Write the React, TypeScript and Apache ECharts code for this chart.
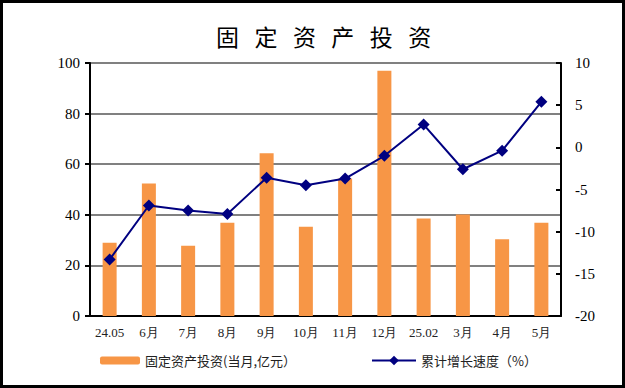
import React, { useEffect, useRef } from "react";
import * as echarts from "echarts";

const categories = ["24.05", "6月", "7月", "8月", "9月", "10月", "11月", "12月", "25.02", "3月", "4月", "5月"];
const investment = [29.0, 52.4, 27.8, 36.9, 64.3, 35.3, 54.3, 96.9, 38.5, 40.1, 30.3, 36.9];
const growth = [-13.3, -6.9, -7.5, -7.9, -3.6, -4.5, -3.7, -1.0, 2.7, -2.6, -0.4, 5.4];
const leftTicks = { min: 0, max: 100, interval: 20 };
const rightTicks = { min: -20, max: 10, interval: 5 };
const barName = "固定资产投资(当月,亿元）";
const lineName = "累计增长速度（%）";
const titleText = "固   定   资   产   投   资";

export default function App() {
  const ref = useRef<HTMLDivElement>(null);
  useEffect(() => {
    if (!ref.current) return;
    const chart = echarts.init(ref.current, undefined, { renderer: "svg" });
    const serif = "'Liberation Serif', 'Times New Roman', serif";
    const cjk = "'Noto Sans CJK SC', sans-serif";
    chart.setOption({
      animation: false,
      backgroundColor: "#ffffff",
      title: {
        text: titleText,
        left: 211,
        top: 19,
        textStyle: { fontFamily: cjk, fontSize: 23, fontWeight: "normal", color: "#000" },
      },
      graphic: [
        {
          type: "rect",
          shape: { x: 1.5, y: 1.5, width: 622, height: 385 },
          style: { fill: "none", stroke: "#000", lineWidth: 3 },
          silent: true,
        },
      ],
      legend: [
        {
          data: [barName],
          left: 95,
          top: 349,
          itemWidth: 40,
          itemHeight: 8,
          itemGap: 6,
          textStyle: { fontFamily: cjk, fontSize: 13, color: "#222" },
        },
        {
          data: [lineName],
          left: 366,
          top: 349,
          itemWidth: 44,
          itemHeight: 12,
          textStyle: { fontFamily: cjk, fontSize: 13, color: "#222" },
        },
      ],
      grid: { left: 90, right: 64, top: 63, bottom: 72 },
      xAxis: {
        type: "category",
        data: categories,
        boundaryGap: true,
        axisLine: { lineStyle: { color: "#000", width: 2 } },
        axisTick: { inside: true, length: 5, lineStyle: { color: "#000", width: 2 } },
        axisLabel: { fontFamily: serif, fontSize: 13, color: "#222", margin: 10, interval: 0 },
      },
      yAxis: [
        {
          type: "value",
          ...leftTicks,
          position: "left",
          axisLine: { show: true, lineStyle: { color: "#000", width: 2 } },
          axisTick: { show: true, inside: false, length: 5, lineStyle: { color: "#000", width: 2 } },
          axisLabel: { fontFamily: serif, fontSize: 15, color: "#000", margin: 10 },
          splitLine: { show: true, lineStyle: { color: "#808080", width: 2 } },
        },
        {
          type: "value",
          ...rightTicks,
          position: "right",
          axisLine: { show: true, lineStyle: { color: "#000", width: 2 } },
          axisTick: { show: true, inside: true, length: 5, lineStyle: { color: "#000", width: 2 } },
          axisLabel: { fontFamily: serif, fontSize: 15, color: "#000", margin: 14 },
          splitLine: { show: false },
        },
      ],
      series: [
        {
          name: barName,
          type: "bar",
          yAxisIndex: 0,
          data: investment,
          barWidth: 14,
          itemStyle: { color: "#F79646" },
          z: 2,
        },
        {
          name: lineName,
          type: "line",
          yAxisIndex: 1,
          data: growth,
          symbol: "diamond",
          symbolSize: 12,
          lineStyle: { color: "#000080", width: 2 },
          itemStyle: { color: "#000080" },
          z: 3,
        },
      ],
    });
    return () => chart.dispose();
  }, []);
  return (
    <div
      ref={ref}
      style={{ position: "fixed", left: 0, top: 0, width: 625, height: 388 }}
    />
  );
}
